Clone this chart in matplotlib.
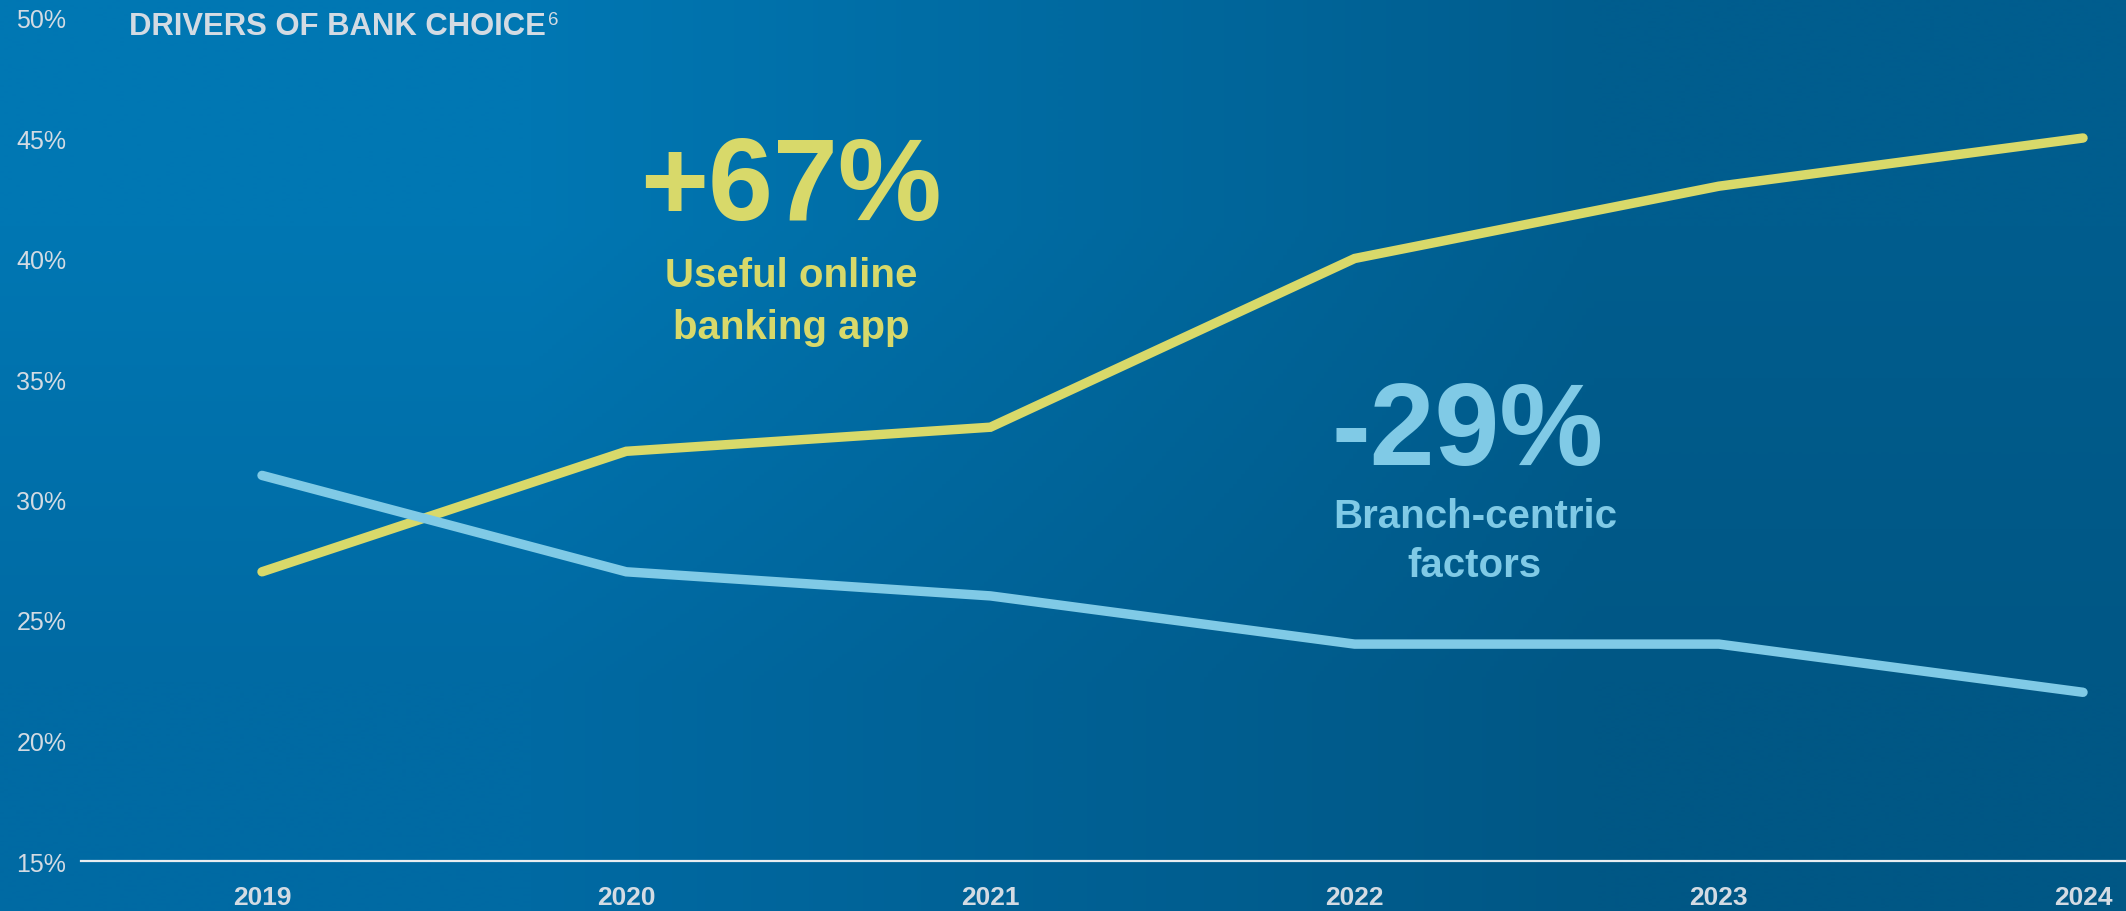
import numpy as np
import matplotlib.pyplot as plt
from matplotlib.colors import to_rgb

plt.rcParams["font.family"] = ["Liberation Sans", "DejaVu Sans"]

# survey shares by year (%)
years = [2019, 2020, 2021, 2022, 2023, 2024]
online_app = [27, 32, 33, 40, 43, 45]
branch_centric = [31, 27, 26, 24, 24, 22]
ytick_vals = [15, 20, 25, 30, 35, 40, 45, 50]

YELLOW = "#d8d96a"
LIGHTBLUE = "#80cae6"
GREY = "#d3dbe3"

fig = plt.figure(figsize=(21.26, 9.12), dpi=100)

# diagonal blue gradient behind everything
bg = fig.add_axes([0, 0, 1, 1], zorder=0)
corners = np.array([[to_rgb("#0077b3"), to_rgb("#005d8e")],
                    [to_rgb("#006aa3"), to_rgb("#005785")]])
bg.imshow(corners, interpolation="bilinear", aspect="auto", extent=[0, 1, 0, 1])
bg.set_axis_off()

ax = fig.add_axes([81 / 2126, 50 / 912, 1 - 81 / 2126, (862 - 18.5) / 912], zorder=1)
ax.patch.set_alpha(0)

ax.plot(years, online_app, color=YELLOW, lw=6.8, solid_capstyle="round",
        solid_joinstyle="miter", zorder=3)
ax.plot(years, branch_centric, color=LIGHTBLUE, lw=6.8, solid_capstyle="round",
        solid_joinstyle="miter", zorder=4)

ax.set_xlim(2018.503, 2024.118)
ax.set_ylim(15, 50)

for side in ["top", "right", "left"]:
    ax.spines[side].set_visible(False)
ax.spines["bottom"].set_color("#e8edf1")
ax.spines["bottom"].set_linewidth(1.6)

ax.set_xticks(years)
ax.set_xticklabels([str(y) for y in years], fontsize=19, fontweight="bold", color=GREY)
ax.set_yticks(ytick_vals)
ax.set_yticklabels([f"{v}%" for v in ytick_vals], fontsize=18, color=GREY, ha="left")
ax.tick_params(axis="x", length=0, pad=17)
ax.tick_params(axis="y", length=0, pad=46.5)

# title with footnote marker
title = fig.text(129 / 2126, 1 - 35 / 912, "DRIVERS OF BANK CHOICE", fontsize=22.3,
                 fontweight="bold", color=GREY, va="baseline", ha="left")
fig.canvas.draw()
bb = title.get_window_extent(fig.canvas.get_renderer())
fig.text(bb.x1 / 2126 + 0.001, 1 - 12 / 912, "6", fontsize=13.5, color=GREY,
         va="top", ha="left")

# change over the period
up = (online_app[-1] - online_app[0]) / online_app[0] * 100
down = (branch_centric[-1] - branch_centric[0]) / branch_centric[0] * 100

ax.text(2020.452, 41.64, f"+{up:.0f}%", fontsize=84, fontweight="bold", color=YELLOW,
        ha="center", va="baseline")
ax.text(2020.452, 38.86, "Useful online", fontsize=29, fontweight="bold", color=YELLOW,
        ha="center", va="baseline")
ax.text(2020.452, 36.70, "banking app", fontsize=29, fontweight="bold", color=YELLOW,
        ha="center", va="baseline")

ax.text(2022.31, 31.47, f"{down:.0f}%", fontsize=84, fontweight="bold", color=LIGHTBLUE,
        ha="center", va="baseline")
ax.text(2022.33, 28.85, "Branch-centric", fontsize=29, fontweight="bold", color=LIGHTBLUE,
        ha="center", va="baseline")
ax.text(2022.33, 26.83, "factors", fontsize=29, fontweight="bold", color=LIGHTBLUE,
        ha="center", va="baseline")

fig.savefig("out.png", dpi=100)
